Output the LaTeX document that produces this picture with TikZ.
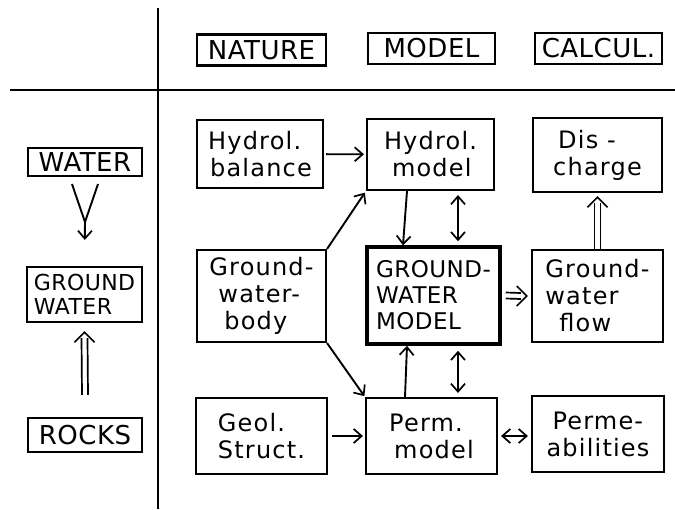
\documentclass[tikz,border=0pt]{standalone}
\usepackage{fontspec}
\setmainfont{DejaVu Sans}
\newfontfamily\handfont[LetterSpace=5]{DejaVu Sans}
\newfontfamily\capfont[LetterSpace=2]{DejaVu Sans}
\usetikzlibrary{arrows.meta,calc}
\begin{document}
\begin{tikzpicture}[x=1pt,y=-1pt,line width=1.9pt,
  box/.style={draw,line width=2.1pt,align=left,inner sep=0pt,
    font=\handfont\fontsize{24}{27}\selectfont},
  capbox/.style={box,font=\capfont\fontsize{26}{28}\selectfont},
  >={Straight Barb[length=8pt,width=14pt,line width=1.7pt]},
  dtip/.style={-{Straight Barb[length=10pt,width=20pt,line width=1.7pt]},line width=1.7pt},
  dline/.style={line width=1.7pt}]
\useasboundingbox (0,0) rectangle (675,509);
% axes
\coordinate (vtop) at (158,8);
\coordinate (vbot) at (158,509);
\coordinate (hl) at (10,90);
\coordinate (hr) at (675,90);
\draw (vtop) -- (vbot);
\draw (hl) -- (hr);
% header
\node[capbox,minimum width=129pt,minimum height=31pt] (nat) at (261.5,50) {NATURE};
\node[capbox,minimum width=127pt,minimum height=31pt] (mod) at (431.5,48.5) {MODEL};
\node[capbox,minimum width=127pt,minimum height=31pt] (cal) at (598.5,48.5) {CALCUL.};
% left column
\node[capbox,minimum width=114pt,minimum height=28pt] (water) at (85,162) {WATER};
\node[capbox,minimum width=115pt,minimum height=55pt,font=\capfont\fontsize{22}{24}\selectfont] (gw) at (84.5,294.5) {GROUND\\WATER};
\node[capbox,minimum width=114pt,minimum height=34pt] (rocks) at (85,435) {ROCKS};
% grid
\node[box,minimum width=126pt,minimum height=68pt] (hb) at (260,154) {Hydrol.\\\hspace*{2pt}balance};
\node[box,minimum width=127pt,minimum height=71pt] (hm) at (430.5,154.5) {Hydrol.\\\hspace*{8pt}model};
\node[box,minimum width=129pt,minimum height=74pt] (dc) at (597.5,155) {\hspace*{5pt}Dis -\\charge};
\node[box,minimum width=129pt,minimum height=92pt] (gwb) at (261.5,296) {Ground-\\\hspace*{9pt}water-\\\hspace*{15pt}body};
\node[box,line width=3.5pt,minimum width=133pt,minimum height=97pt,font=\capfont\fontsize{23}{26}\selectfont] (gwm) at (433.5,295.5) {GROUND-\\WATER\\MODEL};
\node[box,minimum width=131pt,minimum height=92pt] (gwf) at (597.5,296) {Ground-\\water\\\hspace*{14pt}flow};
\node[box,minimum width=131pt,minimum height=76pt] (gs) at (261.5,436) {Geol.\\Struct.};
\node[box,minimum width=131pt,minimum height=76pt] (pm) at (431.5,436) {Perm.\\\hspace*{5pt}model};
\node[box,minimum width=132pt,minimum height=76pt] (pa) at (598,434) {\hspace*{6pt}Perme-\\abilities};
% left arrows
\coordinate (vt) at (85,222);
\draw ($(water.south)+(-13,7)$) -- (vt) -- ($(water.south)+(13,7)$);
\draw[->,shorten >=26pt] (vt) -- (gw.north);
% rocks => groundwater (double arrow)
\coordinate (r1) at ($(rocks.north)+(0,-22)$);
\coordinate (r2) at ($(gw.south)+(0,8)$);
\draw[dline] ($(r1)+(-3,0)$) -- ($(r2)+(-3,7)$);
\draw[dline] ($(r1)+(3,0)$) -- ($(r2)+(3,7)$);
\draw[dtip] ($(r2)+(0,1)$) -- (r2);
% grid arrows
\draw[->,shorten <=2pt,shorten >=2pt] (hb) -- (hm);
\draw[->] ([xshift=-23.5pt]hm.south) -- ([xshift=-30.5pt]gwm.north);
\draw[<->,shorten <=4pt,shorten >=4pt] ([xshift=27.5pt]hm.south) -- ([xshift=24.5pt]gwm.north);
\draw[->,shorten >=2pt] (gwb.north east) -- (hm.south west);
\draw[->,shorten >=1pt] (gwb.south east) -- (pm.north west);
\draw[->] ([xshift=-26.5pt]pm.north) -- ([xshift=-26.5pt]gwm.south);
\draw[<->,shorten <=5pt,shorten >=4pt] ([xshift=24.5pt]gwm.south) -- ([xshift=26.5pt]pm.north);
% groundwater model => groundwater flow
\coordinate (m1) at ($(gwm.east)+(4,0)$);
\coordinate (m2) at ($(gwf.west)+(-3,0)$);
\draw[dline] ($(m1)+(0,-3)$) -- ($(m2)+(-7,-3)$);
\draw[dline] ($(m1)+(0,3)$) -- ($(m2)+(-7,3)$);
\draw[dtip] ($(m2)+(-1,0)$) -- (m2);
% groundwater flow => discharge
\coordinate (f1) at (gwf.north);
\coordinate (f2) at ($(dc.south)+(0,3)$);
\draw[dline] ($(f1)+(-3,0)$) -- ($(f2)+(-3,7)$);
\draw[dline] ($(f1)+(3,0)$) -- ($(f2)+(3,7)$);
\draw[dtip] ($(f2)+(0,1)$) -- (f2);
\draw[->,shorten <=4pt,shorten >=2pt] (gs) -- (pm);
\draw[<->,shorten <=3pt,shorten >=3pt] (pm.east) -- (pm.east -| pa.west);
\end{tikzpicture}
\end{document}
